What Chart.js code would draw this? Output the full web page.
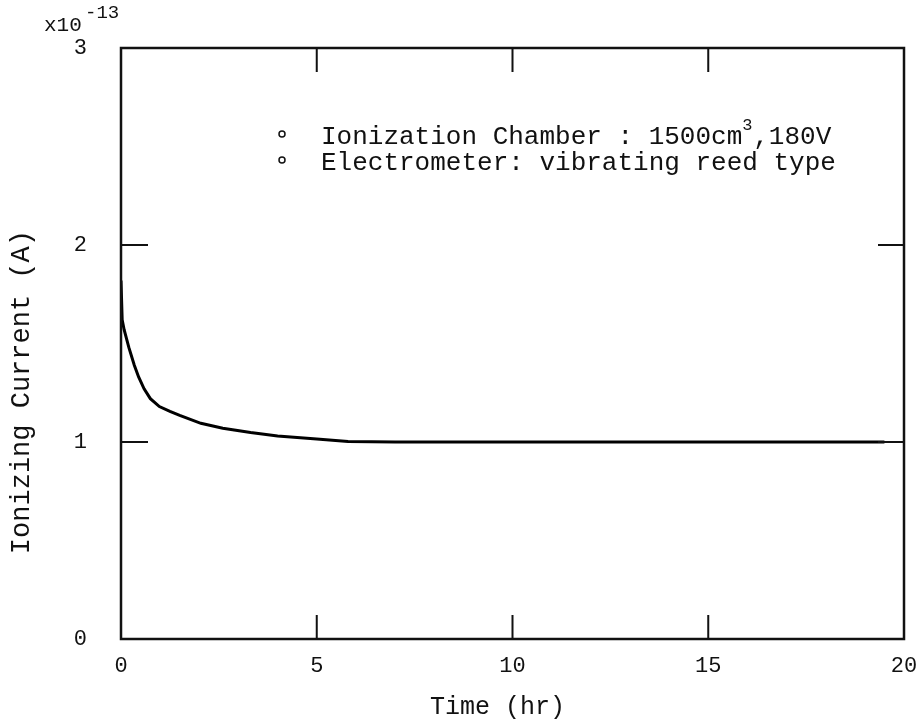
<!DOCTYPE html>
<html>
<head>
<meta charset="utf-8">
<script src="https://cdn.jsdelivr.net/npm/chart.js@4/dist/chart.umd.min.js"></script>
<style>
  html, body { margin: 0; padding: 0; background: #fff; }
  #wrap { width: 916px; height: 721px; }
</style>
</head>
<body>
<div id="wrap"><canvas id="myChart" width="916" height="721"></canvas></div>
<script>
'use strict';

// time in hours, current in units of 1e-13 A
var times = [0, 0.03, 0.08, 0.2, 0.34, 0.45, 0.59, 0.75, 0.98, 1.25, 1.5, 2.04, 2.6, 3.31, 4, 5, 5.8, 7, 19.5];
var current = [1.82, 1.62, 1.57, 1.48, 1.39, 1.33, 1.27, 1.22, 1.18, 1.155, 1.135, 1.095, 1.07, 1.048, 1.03, 1.015, 1.003, 1.0, 1.0];
var xTicks = [0, 5, 10, 15, 20];
var yTicks = [0, 1, 2, 3];
var notes = ['Ionization Chamber : 1500cm', 'Electrometer: vibrating reed type'];

(function () {
	var mono = '"Liberation Mono", "DejaVu Sans Mono", monospace';
	var ink = '#111';

	var points = times.map(function (t, i) { return { x: t, y: current[i] }; });

	var framePlugin = {
		id: 'frame',
		afterDraw: function (chart) {
			var ctx = chart.ctx;
			var a = chart.chartArea;
			var xs = chart.scales.x, ys = chart.scales.y;
			ctx.save();
			ctx.strokeStyle = ink;
			ctx.lineWidth = 2.5;
			ctx.strokeRect(a.left, a.top, a.right - a.left, a.bottom - a.top);

			// inner tick marks on all four sides
			ctx.lineWidth = 2;
			ctx.beginPath();
			xTicks.slice(1, -1).forEach(function (v) {
				var px = xs.getPixelForValue(v);
				ctx.moveTo(px, a.bottom); ctx.lineTo(px, a.bottom - 24);
				ctx.moveTo(px, a.top); ctx.lineTo(px, a.top + 24);
			});
			yTicks.slice(1, -1).forEach(function (v) {
				var py = ys.getPixelForValue(v);
				ctx.moveTo(a.left, py); ctx.lineTo(a.left + 27, py);
				ctx.moveTo(a.right, py); ctx.lineTo(a.right - 26, py);
			});
			ctx.stroke();

			// exponent label
			ctx.fillStyle = ink;
			ctx.textBaseline = 'alphabetic';
			ctx.textAlign = 'left';
			ctx.font = '21px ' + mono;
			ctx.fillText('x10', 44, 31);
			ctx.font = '19px ' + mono;
			ctx.fillText('-13', 85, 18);

			// notes
			ctx.font = '26px ' + mono;
			ctx.fillText(notes[0], 321, 144);
			var w = ctx.measureText(notes[0]).width;
			ctx.font = '17px ' + mono;
			ctx.fillText('3', 321 + w, 130);
			ctx.font = '26px ' + mono;
			ctx.fillText(',180V', 321 + w + 11, 144);
			ctx.fillText(notes[1], 321, 170);
			ctx.lineWidth = 1.5;
			[134, 160].forEach(function (y) {
				ctx.beginPath();
				ctx.arc(282, y, 3, 0, Math.PI * 2);
				ctx.stroke();
			});
			ctx.restore();
		}
	};

	var ctx = document.getElementById('myChart').getContext('2d');
	var myChart = new Chart(ctx, {
		type: 'scatter',
		data: {
			datasets: [{
				data: points,
				showLine: true,
				borderColor: '#000',
				borderWidth: 3,
				pointRadius: 0,
				tension: 0,
				fill: false
			}]
		},
		options: {
			responsive: false,
			animation: false,
			layout: { padding: { top: 48, right: 12, left: 0, bottom: 0 } },
			plugins: { legend: { display: false }, tooltip: { enabled: false } },
			scales: {
				x: {
					type: 'linear',
					min: 0, max: 20,
					afterBuildTicks: function (scale) {
						scale.ticks = xTicks.map(function (v) { return { value: v }; });
					},
					afterFit: function (scale) {
						scale.height = 82;
						scale.paddingLeft = 0;
						scale.paddingRight = 0;
					},
					grid: { display: false, drawTicks: false },
					border: { display: false },
					ticks: { color: ink, padding: 14, font: { family: mono, size: 22 }, maxRotation: 0 },
					title: {
						display: true,
						text: 'Time (hr)  ',
						color: ink,
						font: { family: mono, size: 25, lineHeight: 1 },
						padding: { top: 0, bottom: 1 }
					}
				},
				y: {
					type: 'linear',
					min: 0, max: 3,
					afterBuildTicks: function (scale) {
						scale.ticks = yTicks.map(function (v) { return { value: v }; });
					},
					afterFit: function (scale) {
						scale.width = 121;
						scale.paddingTop = 0;
						scale.paddingBottom = 0;
					},
					grid: { display: false, drawTicks: false },
					border: { display: false },
					ticks: { color: ink, padding: 34, font: { family: mono, size: 22 } },
					title: {
						display: true,
						text: 'Ionizing Current (A)      ',
						color: ink,
						font: { family: mono, size: 27, lineHeight: 1 },
						padding: { top: 8, bottom: 0 }
					}
				}
			}
		},
		plugins: [framePlugin]
	});
})();
</script>
</body>
</html>
